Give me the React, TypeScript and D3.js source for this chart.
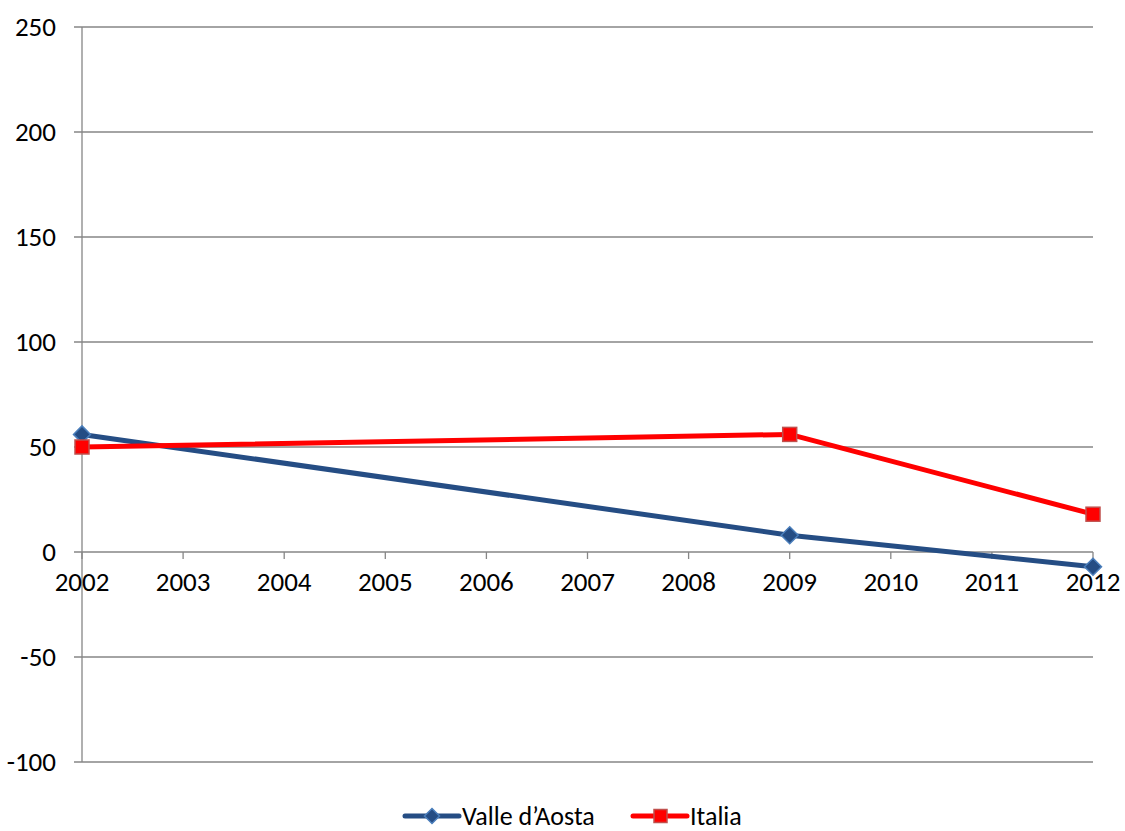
import React from 'react';
import * as d3 from 'd3';

const years = [2002, 2003, 2004, 2005, 2006, 2007, 2008, 2009, 2010, 2011, 2012];
const yTicks = [-100, -50, 0, 50, 100, 150, 200, 250];

const valleYears = [2002, 2009, 2012];
const valleValues = [56, 8, -7];
const italiaYears = [2002, 2009, 2012];
const italiaValues = [50, 56, 18];

const W = 1125;
const H = 831;
const margin = { top: 27, right: 32, bottom: 69, left: 82 };
const FONT = "Carlito, 'Open Sans', sans-serif";
const FS = 27;

const App: React.FC = () => {
  const x = d3.scaleLinear()
    .domain([2002, 2012])
    .range([margin.left, W - margin.right]);
  const y = d3.scaleLinear()
    .domain([-100, 250])
    .range([H - margin.bottom, margin.top]);

  const line = d3.line<[number, number]>()
    .x(d => x(d[0]))
    .y(d => y(d[1]));

  const valle: [number, number][] = valleYears.map((yr, i) => [yr, valleValues[i]]);
  const italia: [number, number][] = italiaYears.map((yr, i) => [yr, italiaValues[i]]);

  const blue = '#254D84';
  const blueEdge = '#4A7EBB';
  const red = '#FF0000';
  const redEdge = '#C0504D';

  const diamond = (cx: number, cy: number, r: number) =>
    `M${cx},${cy - r}L${cx + r},${cy}L${cx},${cy + r}L${cx - r},${cy}Z`;

  const y0 = y(0);

  return (
    <svg width={W} height={H} style={{ position: 'absolute', left: 0, top: 0, background: '#fff' }}>
      {/* gridlines */}
      {yTicks.map(t => (
        <g key={t}>
          <line x1={x(2002) - 8} x2={x(2012)} y1={y(t)} y2={y(t)} stroke="#868686" strokeWidth={1.3} />
          <text x={56} y={y(t)} dy="0.33em" textAnchor="end" fontFamily={FONT} fontSize={FS} fill="#000">
            {t}
          </text>
        </g>
      ))}
      {/* y axis */}
      <line x1={x(2002)} x2={x(2002)} y1={y(250)} y2={y(-100)} stroke="#868686" strokeWidth={1.3} />
      {/* x ticks on zero line */}
      {years.map(yr => (
        <g key={yr}>
          <line x1={x(yr)} x2={x(yr)} y1={y0} y2={y0 + 7} stroke="#868686" strokeWidth={1.3} />
          <text x={x(yr)} y={y0 + 39} textAnchor="middle" fontFamily={FONT} fontSize={FS} fill="#000">
            {yr}
          </text>
        </g>
      ))}

      {/* series */}
      <path d={line(valle) || ''} fill="none" stroke={blue} strokeWidth={5} strokeLinejoin="round" />
      {valle.map((d, i) => (
        <path key={i} d={diamond(x(d[0]), y(d[1]), 8.5)} fill={blue} stroke={blueEdge} strokeWidth={1.5} />
      ))}
      <path d={line(italia) || ''} fill="none" stroke={red} strokeWidth={5} strokeLinejoin="round" />
      {italia.map((d, i) => (
        <rect key={i} x={x(d[0]) - 7} y={y(d[1]) - 7} width={14} height={14} fill={red} stroke={redEdge} strokeWidth={1.5} />
      ))}

      {/* legend */}
      <g transform="translate(405, 816)">
        <line x1={0} x2={54} y1={0} y2={0} stroke={blue} strokeWidth={5} strokeLinecap="round" />
        <path d={diamond(27, 0, 7.5)} fill={blue} stroke={blueEdge} strokeWidth={1.5} />
        <text x={57} y={0} dy="0.33em" fontFamily={FONT} fontSize={26} fill="#000">Valle d’Aosta</text>
      </g>
      <g transform="translate(633, 816)">
        <line x1={0} x2={54} y1={0} y2={0} stroke={red} strokeWidth={5} strokeLinecap="round" />
        <rect x={21} y={-6.5} width={13} height={13} fill={red} stroke={redEdge} strokeWidth={1.5} />
        <text x={57} y={0} dy="0.33em" fontFamily={FONT} fontSize={26} fill="#000">Italia</text>
      </g>
    </svg>
  );
};

export default App;
